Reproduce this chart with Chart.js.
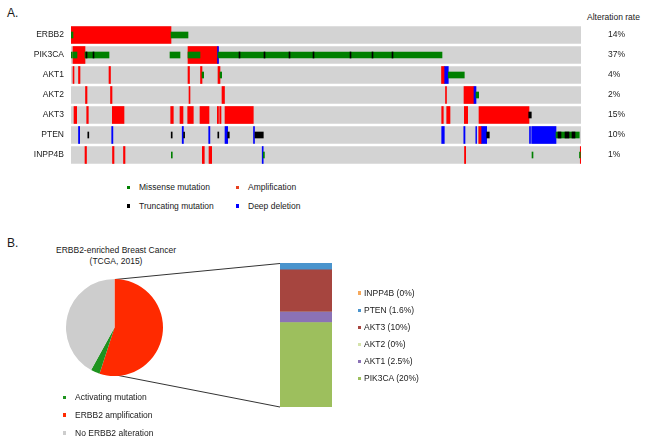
<!DOCTYPE html>
<html><head><meta charset="utf-8">
<script src="https://cdn.jsdelivr.net/npm/chart.js@4.4.1/dist/chart.umd.min.js"></script>
<style>
body{margin:0;width:645px;height:443px;background:#fff;position:relative;overflow:hidden;font-family:"Liberation Sans",Arial,sans-serif;color:#1a1a1a}
canvas{position:absolute}
.t{position:absolute;font-size:8.5px;line-height:10px;white-space:nowrap}
.mk{position:absolute;width:3.5px;height:3.5px}
.big{position:absolute;font-size:12px;line-height:14px}
svg{position:absolute;left:0;top:0}
</style></head><body>
<div class="big" style="left:7px;top:6px">A.</div>
<div class="big" style="left:7px;top:236px">B.</div>
<div class="t" style="left:587px;top:12px">Alteration rate</div>
<canvas id="onco" width="645" height="140" style="left:0;top:25px"></canvas>
<div id="legA"></div>
<div class="t" style="left:46px;top:245px;width:140px;text-align:center;line-height:10.5px">ERBB2-enriched Breast Cancer<br>(TCGA, 2015)</div>
<svg width="645" height="443"><line x1="115" y1="279.5" x2="280" y2="263.5" stroke="#333" stroke-width="1"/><line x1="116" y1="375" x2="280" y2="407" stroke="#333" stroke-width="1"/></svg>
<canvas id="pie" width="97" height="97" style="left:66px;top:279px"></canvas>
<div id="legPie"></div>
<canvas id="bk" width="52" height="144" style="left:280px;top:263px"></canvas>
<div id="legBk"></div>
<script>
// ---------- Panel A data (positions along the sample axis, 0..trackLength) ----------
const genes = ['ERBB2','PIK3CA','AKT1','AKT2','AKT3','PTEN','INPP4B'];
const alterationRates = ['14%','37%','4%','2%','15%','10%','1%'];
const trackLength = 510;
const amplification = [
 ['ERBB2',0,100],
 ['PIK3CA',2,14],['PIK3CA',117,147],
 ['AKT1',2,3],['AKT1',7.5,9],['AKT1',38,39.5],['AKT1',117,118.5],['AKT1',129.5,131],['AKT1',147,149],['AKT1',370.5,373.7],
 ['AKT2',14.5,16],['AKT2',39.5,41],['AKT2',118,119],['AKT2',151,153.5],['AKT2',374.5,375.5],['AKT2',393,403],
 ['AKT3',3,5.7],['AKT3',15.7,17.3],['AKT3',41.3,53],['AKT3',99.7,102.3],['AKT3',109,112],['AKT3',116.7,122.3],['AKT3',129,138],['AKT3',146.3,147.5],['AKT3',148.7,150],['AKT3',154,182.3],['AKT3',370.7,372.3],['AKT3',375.7,379],['AKT3',393.3,396.7],['AKT3',408,458],
 ['PTEN',407.7,410.7],
 ['INPP4B',14,15.5],['INPP4B',41.5,43],['INPP4B',52.5,54],['INPP4B',131.3,133.3],['INPP4B',138,140.7],['INPP4B',393.5,394.7],['INPP4B',509.3,510]
];
const deepDeletion = [
 ['PIK3CA',146.5,147.5],
 ['AKT1',373.7,377.3],
 ['AKT2',403,405],
 ['PTEN',7.5,8.7],['PTEN',40.7,41.9],['PTEN',111.2,112.4],['PTEN',137.7,138.9],['PTEN',154,156.7],['PTEN',182.5,183.5],['PTEN',370.7,373.3],['PTEN',392.8,394],['PTEN',404.8,405.6],['PTEN',410.7,415.7],['PTEN',458.5,459.5],['PTEN',460.7,485],
 ['INPP4B',191.2,192.2]
];
const missenseMutation = [
 ['ERBB2',0,2],['ERBB2',100,117],
 ['PIK3CA',0,1.3],['PIK3CA',2,6],['PIK3CA',14,38],['PIK3CA',99,109],['PIK3CA',117,129],['PIK3CA',147,371],
 ['AKT1',131,132.7],['AKT1',149,150.7],['AKT1',377.3,393.3],
 ['AKT2',405,407.7],
 ['PTEN',485,508.3],
 ['INPP4B',100.3,101.3],['INPP4B',192.2,193.4],['INPP4B',461,462],['INPP4B',508.5,509.3]
];
const truncatingMutation = [
 ['PIK3CA',15,16],['PIK3CA',22,23],['PIK3CA',168,169],['PIK3CA',193,194],['PIK3CA',218,219],['PIK3CA',242,243],['PIK3CA',279,280],['PIK3CA',301,302],['PIK3CA',321,322],
 ['AKT3',457.7,460.3],
 ['PTEN',16.8,17.8],['PTEN',100.2,101.2],['PTEN',112.6,113.6],['PTEN',146.8,147.8],['PTEN',156.7,158.3],['PTEN',184,192.3],['PTEN',415.7,418.3],['PTEN',487,490],['PTEN',494,498],['PTEN',501,504]
];
const oncoLegendLabels = ['Missense mutation','Amplification','Truncating mutation','Deep deletion'];

// ---------- Panel B data ----------
const pieLabels = ['ERBB2 amplification','Activating mutation','No ERBB2 alteration'];
const pieValues = [55, 3, 42];
const pieLegendOrder = ['Activating mutation','ERBB2 amplification','No ERBB2 alteration'];
const akGenes = ['PIK3CA','AKT1','AKT2','AKT3','PTEN','INPP4B'];
const akValues = [20, 2.5, 0, 10, 1.6, 0];

// ---------- styles ----------
const FAM = '"Liberation Sans", Arial, sans-serif';
Chart.defaults.font.family = FAM;
const C = {amp:'#ff0000', del:'#0000ff', mis:'#008000', trunc:'#000000', track:'#d3d3d3'};
const pieColors = {'ERBB2 amplification':'#ff2a00','Activating mutation':'#1f931f','No ERBB2 alteration':'#cdcdcd'};
const akColors = {'PIK3CA':'#9dbf5d','AKT1':'#8b72b6','AKT2':'#d5e3ab','AKT3':'#a6453f','PTEN':'#4a94cd','INPP4B':'#f6a95c'};

const toPts = arr => arr.map(([g,s,e]) => ({y:g, x:[s,e]}));
const tickFont = {size:8.5, family:FAM};
function fixV(w){ return s => { s.width = w; s.paddingTop = 0; s.paddingBottom = 0; }; }

new Chart(document.getElementById('onco'), {
  type:'bar',
  data:{ labels: genes, datasets:[
    {label:'Truncating mutation', data:toPts(truncatingMutation), backgroundColor:C.trunc, barThickness:6, grouped:false},
    {label:'Missense mutation', data:toPts(missenseMutation), backgroundColor:C.mis, barThickness:6, grouped:false},
    {label:'Deep deletion', data:toPts(deepDeletion), backgroundColor:C.del, barThickness:17, grouped:false},
    {label:'Amplification', data:toPts(amplification), backgroundColor:C.amp, barThickness:17, grouped:false},
    {label:'track', data:genes.map(g=>({y:g, x:[0,trackLength]})), backgroundColor:C.track, barThickness:17, grouped:false}
  ]},
  options:{
    indexAxis:'y', responsive:false, animation:false, devicePixelRatio:1,
    layout:{padding:0, autoPadding:false},
    plugins:{legend:{display:false}, tooltip:{enabled:false}},
    scales:{
      x:{type:'linear', min:0, max:trackLength, display:false},
      y:{type:'category', position:'left', offset:true, grid:{display:false, drawTicks:false}, border:{display:false},
         ticks:{padding:7, autoSkip:false, color:'#1a1a1a', font:tickFont}, afterFit:fixV(71)},
      rate:{type:'category', labels:alterationRates, position:'right', offset:true, grid:{display:false, drawTicks:false}, border:{display:false},
         ticks:{padding:27, autoSkip:false, color:'#1a1a1a', font:tickFont}, afterFit:fixV(64)}
    }
  }
});

new Chart(document.getElementById('pie'), {
  type:'pie',
  data:{labels:pieLabels, datasets:[{data:pieValues, backgroundColor:pieLabels.map(l=>pieColors[l]), borderWidth:0}]},
  options:{responsive:false, animation:false, devicePixelRatio:1, layout:{padding:0},
    plugins:{legend:{display:false}, tooltip:{enabled:false}}}
});

const akTotal = akValues.reduce((a,b)=>a+b,0);
new Chart(document.getElementById('bk'), {
  type:'bar',
  data:{labels:['AKT pathway'], datasets: akGenes.map((g,i)=>({label:g, data:[akValues[i]], backgroundColor:akColors[g], borderWidth:0, barPercentage:1, categoryPercentage:1}))},
  options:{responsive:false, animation:false, devicePixelRatio:1, layout:{padding:0},
    plugins:{legend:{display:false}, tooltip:{enabled:false}},
    scales:{x:{stacked:true, display:false}, y:{stacked:true, display:false, min:0, max:akTotal}}}
});

// ---------- HTML legends ----------
function addItem(parent, x, yc, color, text, gap, msize){
  const m = document.createElement('div'); m.className='mk';
  m.style.cssText = `left:${x}px;top:${yc-msize/2}px;width:${msize}px;height:${msize}px;background:${color}`;
  const t = document.createElement('div'); t.className='t'; t.textContent=text;
  t.style.left = (x+msize+gap)+'px'; t.style.top=(yc-5.3)+'px';
  parent.appendChild(m); parent.appendChild(t);
}
const legA = document.getElementById('legA');
const legAColors = {'Missense mutation':C.mis,'Amplification':'#e8401e','Truncating mutation':C.trunc,'Deep deletion':C.del};
oncoLegendLabels.forEach((l,i)=>{
  const col = i%2, row = Math.floor(i/2);
  addItem(legA, col? 235.5:126.5, row? 206:187.3, legAColors[l], l, 9, 3.5);
});
const legPie = document.getElementById('legPie');
pieLegendOrder.forEach((l,i)=> addItem(legPie, 62.5, 397.5+i*17.7, pieColors[l], l, 9, 3.5));
const legBk = document.getElementById('legBk');
akGenes.slice().reverse().forEach((g,i)=>{
  const v = akValues[akGenes.indexOf(g)];
  addItem(legBk, 358.3, 293+i*17.1, akColors[g], `${g} (${v}%)`, 2.5, 3.2);
});
</script>
</body></html>
